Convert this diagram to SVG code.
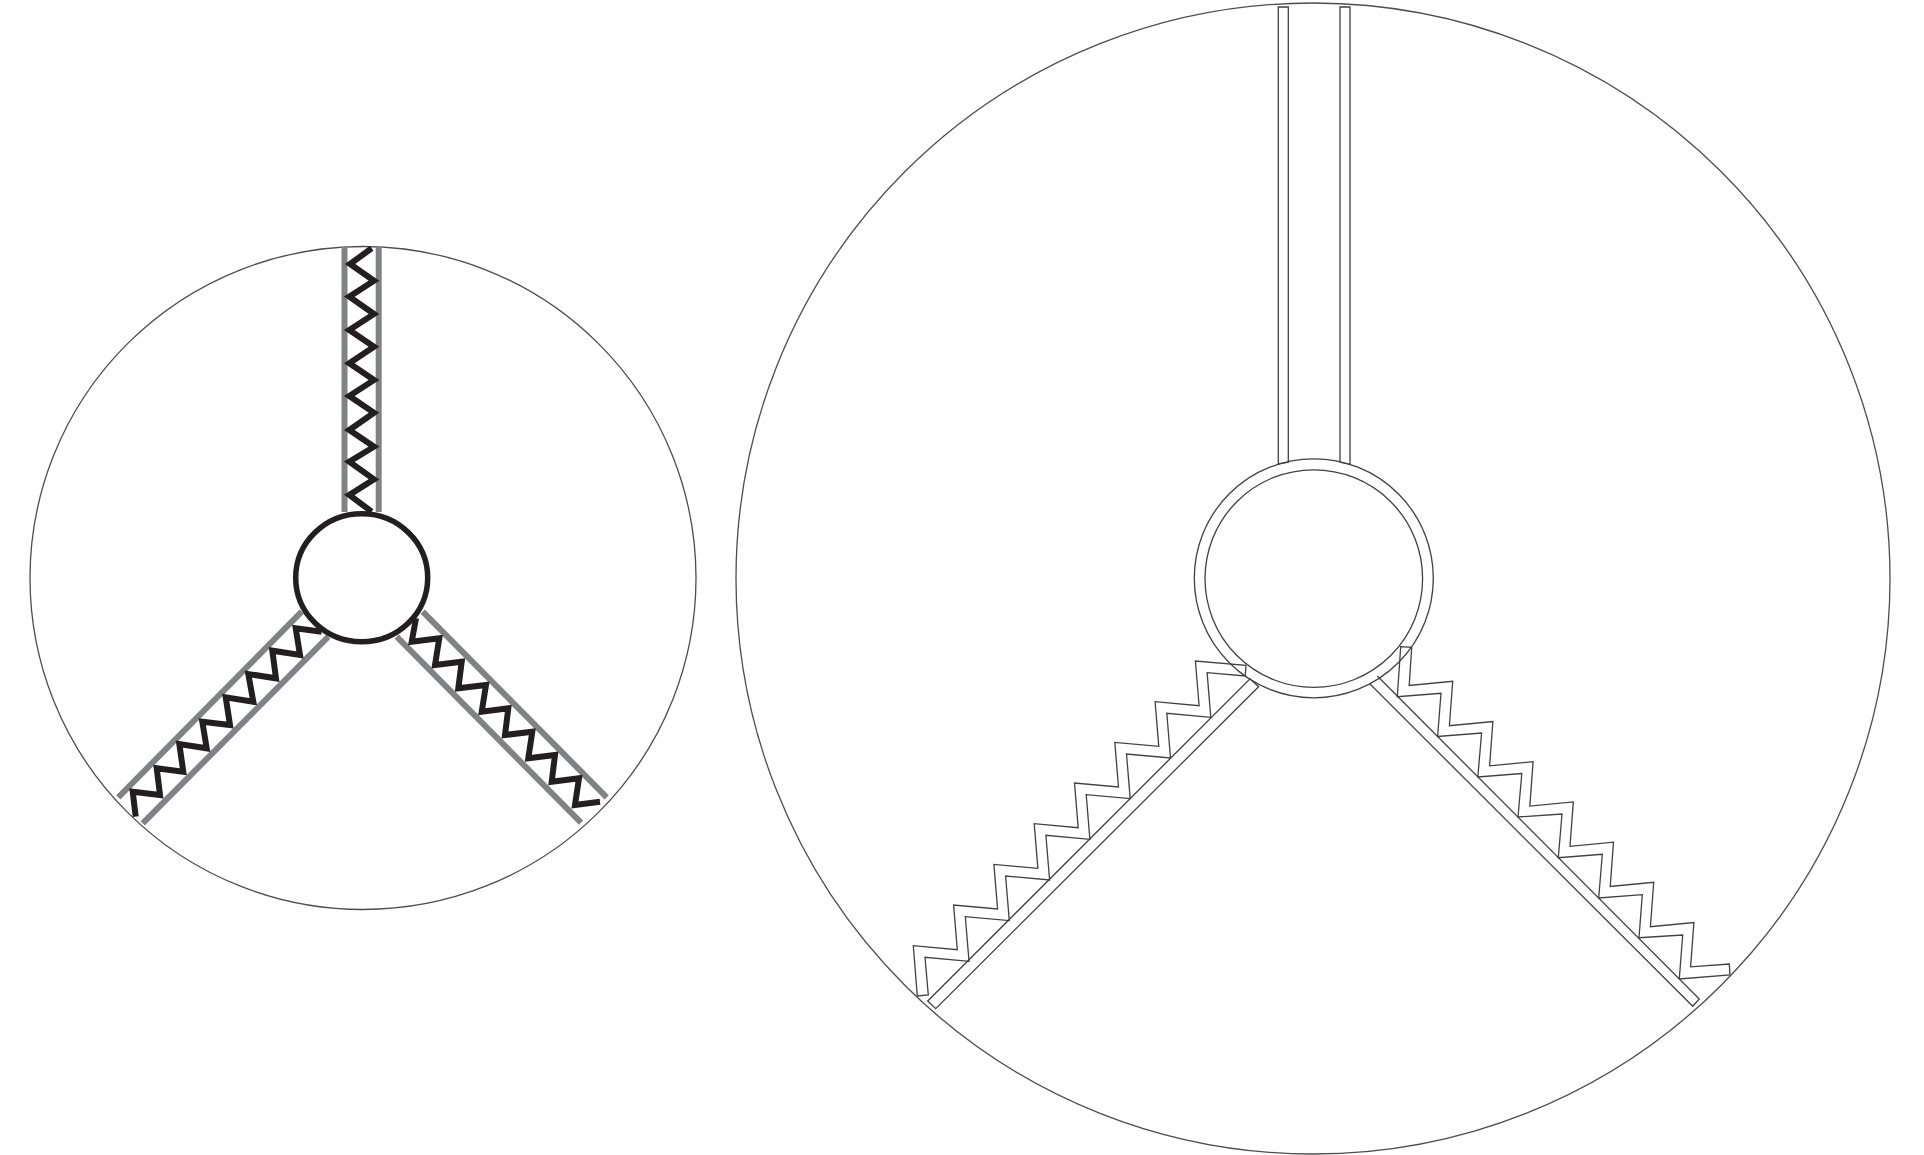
<svg xmlns="http://www.w3.org/2000/svg" width="1924" height="1155" viewBox="0 0 1924 1155">
<style>
.bg{fill:#fff}
.outline{fill:none;stroke:#4d4d4f;stroke-width:1.3}
.rail{fill:none;stroke:#808285;stroke-width:6}
.zig{fill:none;stroke:#231f20;stroke-width:6;stroke-linejoin:miter}
.hub{fill:#fff;stroke:#231f20;stroke-width:5.5}
.thin{fill:none;stroke:#414042;stroke-width:1.3;stroke-linejoin:miter}
</style>
<rect class="bg" width="1924" height="1155"/>
<g id="left-boundary"><ellipse class="outline" cx="363" cy="578" rx="333" ry="331.5"/></g>
<g id="left-connectors">
<path class="rail" d="M344.5 247V512M378.7 247V512"/>
<path class="rail" d="M118.3 797.3L301.7 611.7M142.7 823.3L328.3 636.7"/>
<path class="rail" d="M422.7 611.7L606.7 797.3M396.7 636.7L581 822.7"/>
<polyline class="zig" points="371.7,248.3 350,264 374,280.7 349.3,296.7 374,314 349.3,330 374,346.7 349.3,363.3 374,380 349.3,396 374,412.7 349.3,430 374,446.7 349.3,461.7 374,479.3 349.3,495 371.7,511.7"/>
<polyline class="zig" points="135.7,816.7 132.7,791.7 160,795 156.7,768.3 183.3,771.7 179.3,744 206.7,748.3 202.3,721.7 230,725 225.7,697.3 253.3,701.7 248.3,674 276,678.3 272.3,650.7 300,655 295.7,628.3 321.7,631.7"/>
<polyline class="zig" points="416,618.3 411.7,641.7 439.3,638.3 435,665 461.7,661.7 458.3,688.3 486,685 481.7,711.7 508.3,708.3 505,735 532.3,731.7 528.3,758.3 555,755 551.7,781.7 579,778.3 575,805 600,801.7"/>
</g>
<g id="left-hub"><ellipse class="hub" cx="361.7" cy="577.7" rx="66" ry="64"/></g>
<g id="right-boundary"><ellipse class="outline" cx="1313" cy="578.5" rx="577" ry="575.5"/></g>
<g id="right-connectors">
<path class="thin" d="M1278.3 464V7H1288.3V462.3Z"/>
<path class="thin" d="M1340 462.3V7H1350V464.3Z"/>
<path class="thin" d="M927.7 1001L1250 678.8L1258.6 686.7L935.7 1008.7Z"/>
<path class="thin" d="M1377.3 676L1699.3 999L1692.7 1006.3L1370 684"/>
<polygon class="thin" points="917.3,996 913.3,945.7 957.3,949.7 953.6,905 997.6,909 993.9,864.4 1037.9,868.4 1034.2,823.7 1078.2,827.7 1074.5,783 1118.5,787 1114.8,742.4 1158.8,746.4 1155.1,701.7 1199.1,705.7 1195.4,661 1246,665.3 1245.3,676 1207.1,672.6 1210.8,717.3 1166.8,713.3 1170.5,758 1126.5,754 1130.2,798.6 1086.2,794.6 1089.9,839.3 1045.9,835.3 1049.6,880 1005.6,876 1009.3,920.6 965.3,916.6 969,961.3 925,957.3 928.3,995"/>
<polygon class="thin" points="1400.7,646.7 1411.7,647.3 1409.2,685.5 1452.7,681.3 1449.4,725.7 1492.9,721.5 1489.6,765.9 1533.1,761.7 1529.8,806.1 1573.3,801.9 1570,846.3 1613.5,842.1 1610.2,886.5 1653.7,882.3 1650.4,926.7 1693.9,922.5 1690.6,966.9 1729.3,964 1730,975 1679.3,979 1682.7,935 1639,937.7 1642.3,894.7 1598.7,898 1602.3,854.3 1558.3,857.7 1562,814 1518,817 1521.8,773.5 1477.8,777 1481.6,733 1437.6,736.5 1441,693.3 1397.3,696.7"/>
</g>
<g id="right-hub">
<circle class="thin" cx="1313.8" cy="578.3" r="119.5"/>
<circle class="thin" cx="1313.8" cy="578.6" r="108.8"/>
</g>
</svg>
